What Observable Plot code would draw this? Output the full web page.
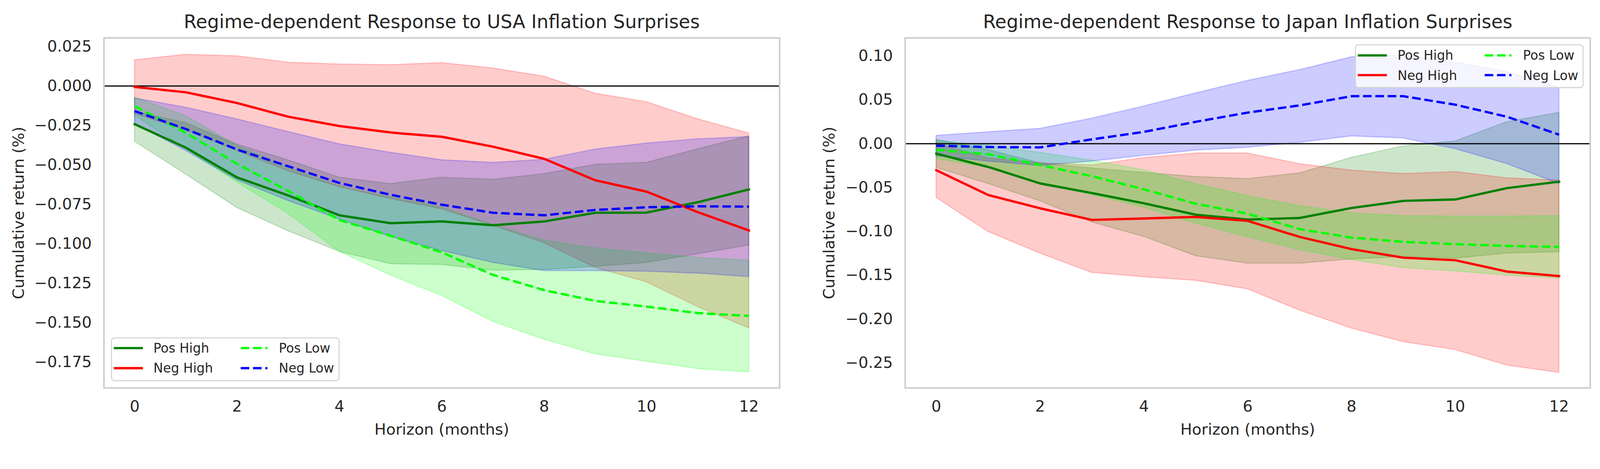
<!DOCTYPE html>
<html><head><meta charset="utf-8">
<script src="https://cdn.jsdelivr.net/npm/d3@7"></script>
<script src="https://cdn.jsdelivr.net/npm/@observablehq/plot@0.6"></script>
<style>
html,body{margin:0;padding:0;background:#fff;overflow:hidden;}
#wrap{position:absolute;left:0;top:0;width:4301px;height:1201px;overflow:hidden;font-family:"DejaVu Sans";color:#262626;transform-origin:0 0;}
#left{position:absolute;left:0;top:0;}
#right{position:absolute;left:2150px;top:0;}
.legend{position:absolute;box-sizing:border-box;border:3px solid rgba(204,204,204,0.8);border-radius:10px;background:rgba(255,255,255,0.8);}
.legend svg{position:absolute;overflow:visible;}
.legend span{position:absolute;white-space:nowrap;font-size:34.7px;line-height:34.7px;}
</style></head><body>
<div id="wrap"><div id="left"></div><div id="right"></div></div>
<script>
// ---------- data ----------
const horizon = [0,1,2,3,4,5,6,7,8,9,10,11,12];
const seriesNames = ["Pos High","Neg High","Pos Low","Neg Low"];
const seriesColors = ["green","red","lime","blue"];
const seriesDashed = [false,false,true,true];

// USA panel
const usaTitle = "Regime-dependent Response to USA Inflation Surprises";
const usaPosHigh   = [-0.0242,-0.0391,-0.0580,-0.0694,-0.0820,-0.0870,-0.0859,-0.0883,-0.0859,-0.0804,-0.0803,-0.0737,-0.0656];
const usaPosHighLo = [-0.0352,-0.0560,-0.0772,-0.0920,-0.1050,-0.1128,-0.1133,-0.1169,-0.1165,-0.1145,-0.1120,-0.1065,-0.1010];
const usaPosHighHi = [-0.0163,-0.0234,-0.0370,-0.0470,-0.0580,-0.0620,-0.0580,-0.0593,-0.0557,-0.0498,-0.0485,-0.0400,-0.0318];
const usaNegHigh   = [-0.0006,-0.0040,-0.0108,-0.0195,-0.0254,-0.0295,-0.0322,-0.0385,-0.0462,-0.0598,-0.0670,-0.0800,-0.0916];
const usaNegHighLo = [-0.0176,-0.0280,-0.0410,-0.0540,-0.0640,-0.0715,-0.0780,-0.0885,-0.0995,-0.1152,-0.1243,-0.1400,-0.1535];
const usaNegHighHi = [0.0165,0.0200,0.0190,0.0150,0.0138,0.0134,0.0147,0.0113,0.0061,-0.0047,-0.0101,-0.0209,-0.0300];
const usaPosLow    = [-0.0128,-0.0297,-0.0494,-0.0666,-0.0850,-0.0950,-0.1055,-0.1198,-0.1295,-0.1363,-0.1399,-0.1440,-0.1458];
const usaPosLowLo  = [-0.0187,-0.0400,-0.0610,-0.0810,-0.1050,-0.1200,-0.1330,-0.1494,-0.1607,-0.1700,-0.1747,-0.1793,-0.1815];
const usaPosLowHi  = [-0.0070,-0.0190,-0.0378,-0.0520,-0.0637,-0.0705,-0.0768,-0.0880,-0.0979,-0.1028,-0.1060,-0.1088,-0.1106];
const usaNegLow    = [-0.0159,-0.0273,-0.0403,-0.0509,-0.0615,-0.0690,-0.0753,-0.0804,-0.0820,-0.0786,-0.0769,-0.0763,-0.0765];
const usaNegLowLo  = [-0.0241,-0.0410,-0.0596,-0.0728,-0.0845,-0.0955,-0.1045,-0.1120,-0.1172,-0.1172,-0.1176,-0.1188,-0.1210];
const usaNegLowHi  = [-0.0077,-0.0136,-0.0210,-0.0290,-0.0368,-0.0422,-0.0469,-0.0486,-0.0466,-0.0401,-0.0363,-0.0336,-0.0322];
const usaYTicks = [0.025,0,-0.025,-0.05,-0.075,-0.1,-0.125,-0.15,-0.175];
const usaYTickLabels = ["0.025","0.000","\u22120.025","\u22120.050","\u22120.075","\u22120.100","\u22120.125","\u22120.150","\u22120.175"];
const usaYDomain = [-0.1915, 0.0305];

// Japan panel
const jpTitle = "Regime-dependent Response to Japan Inflation Surprises";
const jpPosHigh   = [-0.0113,-0.0265,-0.0453,-0.0563,-0.0680,-0.0810,-0.0865,-0.0847,-0.0733,-0.0652,-0.0636,-0.0506,-0.0433];
const jpPosHighLo = [-0.0272,-0.0456,-0.0654,-0.0895,-0.1060,-0.1280,-0.1365,-0.1365,-0.1316,-0.1290,-0.1307,-0.1250,-0.1234];
const jpPosHighHi = [0.0047,-0.0070,-0.0220,-0.0280,-0.0330,-0.0376,-0.0400,-0.0335,-0.0157,-0.0027,0.0030,0.0250,0.0355];
const jpNegHigh   = [-0.0302,-0.0585,-0.0737,-0.0869,-0.0853,-0.0835,-0.0880,-0.1063,-0.1202,-0.1300,-0.1329,-0.1459,-0.1510];
const jpNegHighLo = [-0.0615,-0.1003,-0.1250,-0.1470,-0.1520,-0.1560,-0.1658,-0.1900,-0.2105,-0.2260,-0.2350,-0.2528,-0.2610];
const jpNegHighHi = [0.0005,-0.0165,-0.0220,-0.0245,-0.0160,-0.0108,-0.0108,-0.0230,-0.0303,-0.0343,-0.0319,-0.0392,-0.0417];
const jpPosLow    = [-0.0070,-0.0120,-0.0243,-0.0371,-0.0520,-0.0685,-0.0799,-0.0974,-0.1071,-0.1120,-0.1145,-0.1166,-0.1177];
const jpPosLowLo  = [-0.0170,-0.0272,-0.0449,-0.0583,-0.0725,-0.0909,-0.1063,-0.1210,-0.1324,-0.1414,-0.1454,-0.1500,-0.1535];
const jpPosLowHi  = [0.0035,-0.0020,-0.0100,-0.0190,-0.0300,-0.0457,-0.0596,-0.0709,-0.0790,-0.0823,-0.0828,-0.0828,-0.0823];
const jpNegLow    = [-0.0022,-0.0038,-0.0042,0.0050,0.0135,0.0250,0.0355,0.0437,0.0542,0.0542,0.0445,0.0307,0.0103];
const jpNegLowLo  = [-0.0139,-0.0200,-0.0250,-0.0200,-0.0135,-0.0075,-0.0043,0.0014,0.0087,0.0063,-0.0059,-0.0230,-0.0457];
const jpNegLowHi  = [0.0093,0.0134,0.0173,0.0290,0.0428,0.0578,0.0720,0.0843,0.0990,0.1010,0.0930,0.0820,0.0640];
const jpYTicks = [0.1,0.05,0,-0.05,-0.1,-0.15,-0.2,-0.25];
const jpYTickLabels = ["0.10","0.05","0.00","\u22120.05","\u22120.10","\u22120.15","\u22120.20","\u22120.25"];
const jpYDomain = [-0.2786, 0.1207];

const xTicks = [0,2,4,6,8,10,12];
const xTickLabels = ["0","2","4","6","8","10","12"];
const xDomain = [-0.6, 12.6];
const xLabel = "Horizon (months)";
const yLabel = "Cumulative return (%)";

// ---------- helpers ----------
function buildRows(lines, los, his) {
  return seriesNames.map((name, k) => ({
    name, color: seriesColors[k], dashed: seriesDashed[k],
    rows: horizon.map((h, i) => ({h, y: lines[k][i], lo: los[k][i], hi: his[k][i]}))
  }));
}
const DASH = "23.1,10";
const LW = 6.25;

function panel(opts) {
  const {series, title, yTicks, yTickLabels, yDomain, width, mL, mR, yLabelDx} = opts;
  const labelMap = new Map(yTicks.map((t, i) => [t, yTickLabels[i]]));
  const xMap = new Map(xTicks.map((t, i) => [t, xTickLabels[i]]));
  const marks = [];
  for (const s of series) {
    marks.push(Plot.areaY(s.rows, {x: "h", y1: "lo", y2: "hi", fill: s.color, fillOpacity: 0.2,
      stroke: s.color, strokeOpacity: 0.2, strokeWidth: 3, curve: "linear"}));
  }
  marks.push(Plot.ruleY([0], {stroke: "black", strokeWidth: 3.3}));
  for (const s of series) {
    marks.push(Plot.line(s.rows, {x: "h", y: "y", stroke: s.color, strokeWidth: LW,
      strokeDasharray: s.dashed ? DASH : null, strokeLinecap: s.dashed ? "butt" : "square",
      strokeLinejoin: "round", curve: "linear"}));
  }
  marks.push(Plot.frame({stroke: "#cccccc", strokeWidth: 4}));
  marks.push(Plot.axisX({ticks: xTicks, tickSize: 0, tickPadding: 34, tickFormat: d => xMap.get(d), label: null, fill: "#262626"}));
  marks.push(Plot.axisY({ticks: yTicks, tickSize: 0, tickPadding: 33, tickFormat: d => labelMap.get(d), label: null, fill: "#262626"}));
  marks.push(Plot.text([title], {frameAnchor: "top", dy: -26.4, lineAnchor: "bottom", fontSize: 50, fill: "#262626"}));
  marks.push(Plot.text([xLabel], {frameAnchor: "bottom", dy: 125.3, lineAnchor: "bottom", fontSize: 41.7, fill: "#262626"}));
  marks.push(Plot.text([yLabel], {frameAnchor: "left", dx: yLabelDx, rotate: -90, textAnchor: "middle", lineAnchor: "middle", fontSize: 41.7, fill: "#262626"}));
  return Plot.plot({
    width, height: 1201,
    marginLeft: mL, marginRight: mR, marginTop: 101.4, marginBottom: 158.3,
    x: {domain: xDomain},
    y: {domain: yDomain},
    style: {fontFamily: "DejaVu Sans", fontSize: "41.7px", color: "#262626", background: "white", overflow: "visible"},
    marks
  });
}

const usaSeries = buildRows(
  [usaPosHigh, usaNegHigh, usaPosLow, usaNegLow],
  [usaPosHighLo, usaNegHighLo, usaPosLowLo, usaNegLowLo],
  [usaPosHighHi, usaNegHighHi, usaPosLowHi, usaNegLowHi]);
const jpSeries = buildRows(
  [jpPosHigh, jpNegHigh, jpPosLow, jpNegLow],
  [jpPosHighLo, jpNegHighLo, jpPosLowLo, jpNegLowLo],
  [jpPosHighHi, jpNegHighHi, jpPosLowHi, jpNegLowHi]);

document.getElementById("left").appendChild(panel({series: usaSeries, title: usaTitle,
  yTicks: usaYTicks, yTickLabels: usaYTickLabels, yDomain: usaYDomain,
  width: 2150, mL: 279, mR: 54.7, yLabelDx: -229}));
document.getElementById("right").appendChild(panel({series: jpSeries, title: jpTitle,
  yTicks: jpYTicks, yTickLabels: jpYTickLabels, yDomain: jpYDomain,
  width: 2151, mL: 282.7, mR: 26.7, yLabelDx: -204}));

// ---------- legends ----------
function legend(left, top) {
  const box = document.createElement("div");
  box.className = "legend";
  box.style.left = left + "px"; box.style.top = top + "px";
  box.style.width = "615px"; box.style.height = "118px";
  const rowsY = [29.5, 83];
  const cols = [{hx: 8, tx: 111.5}, {hx: 346, tx: 448.5}];
  seriesNames.forEach((name, k) => {
    const c = cols[Math.floor(k / 2)], ry = rowsY[k % 2] - 3;
    const ns = "http://www.w3.org/2000/svg";
    const svg = document.createElementNS(ns, "svg");
    svg.setAttribute("width", 76); svg.setAttribute("height", 12);
    svg.style.left = c.hx + "px"; svg.style.top = (ry - 6) + "px";
    const ln = document.createElementNS(ns, "line");
    ln.setAttribute("x1", 0); ln.setAttribute("x2", 72); ln.setAttribute("y1", 6); ln.setAttribute("y2", 6);
    ln.setAttribute("stroke", seriesColors[k]); ln.setAttribute("stroke-width", LW);
    if (seriesDashed[k]) ln.setAttribute("stroke-dasharray", DASH);
    else ln.setAttribute("stroke-linecap", "square");
    svg.appendChild(ln);
    box.appendChild(svg);
    const sp = document.createElement("span");
    sp.textContent = name;
    sp.style.left = c.tx + "px"; sp.style.top = (ry - 16.7) + "px";
    box.appendChild(sp);
  });
  document.getElementById("wrap").appendChild(box);
}
legend(298, 906.6);
legend(3642.4, 119.4);

// fit the 4301x1201 design into the actual viewport
function fit() {
  const s = Math.min(window.innerWidth / 4301, window.innerHeight / 1201);
  document.getElementById("wrap").style.transform = Math.abs(s - 1) > 0.002 ? `scale(${s})` : "";
}
fit();
window.addEventListener("resize", fit);
</script>
</body></html>
